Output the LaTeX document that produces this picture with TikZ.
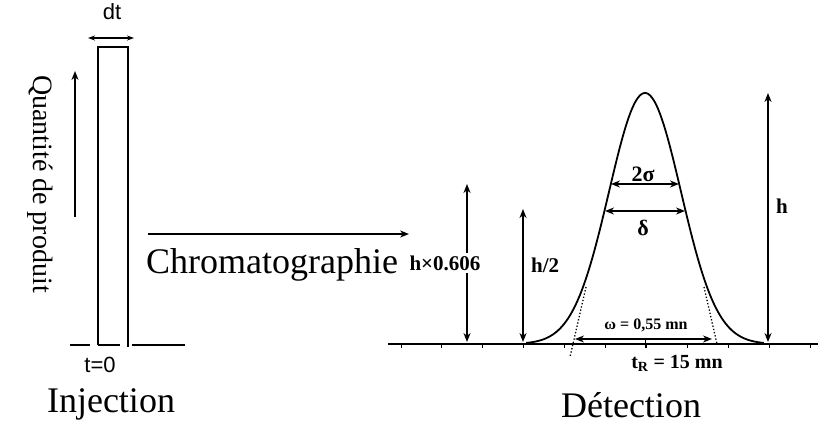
\documentclass[tikz,border=0pt]{standalone}
\usepackage{fontspec}
\setmainfont{Liberation Serif}
\newfontfamily\sansf{Liberation Sans}
\usetikzlibrary{arrows.meta}
\tikzset{
  ln/.style={line width=1.8pt},
  arr/.style={ln,-{Stealth[length=9pt,width=7pt]}},
  darr/.style={ln,{Stealth[length=9pt,width=7pt]}-{Stealth[length=9pt,width=7pt]}},
  bigtxt/.style={font=\fontsize{36}{36}\selectfont,inner sep=0pt},
  lab/.style={font=\bfseries\fontsize{21}{21}\selectfont,inner sep=1pt},
  dotl/.style={line width=1.3pt,dotted},
}
\begin{document}
\begin{tikzpicture}[x=1pt,y=-1pt]
\useasboundingbox (0,0) rectangle (837,430);
% ---------- Injection ----------
\draw[ln] (98,345) -- (98,47) -- (128,47) -- (128,347);
\draw[ln] (70,345) -- (90,345);
\draw[ln] (98,345) -- (120,345);
\draw[ln] (132,345) -- (185,345);
\coordinate (dtl) at (88,38); \coordinate (dtr) at (134,38);
\draw[ln,{Stealth[length=7pt,width=5pt]}-{Stealth[length=7pt,width=5pt]}] (dtl) -- (dtr);
\node[font=\sansf\fontsize{22}{22}\selectfont,anchor=base,inner sep=0pt] (dt) at (112,20) {dt};
\coordinate (qa) at (75,217); \coordinate (qb) at (75,71);
\draw[arr] (qa) -- (qb);
\node[font=\fontsize{28}{28}\selectfont,rotate=-90,anchor=base,inner sep=0pt] (qp) at (33,184) {Quantité de produit};
\node[font=\sansf\fontsize{22}{22}\selectfont,anchor=base,inner sep=0pt] (t0) at (100,372) {t=0};
\node[bigtxt,anchor=base] (inj) at (111,412) {Injection};
% ---------- Chromatographie ----------
\coordinate (ca) at (148,234); \coordinate (cb) at (409,234);
\draw[arr] (ca) -- (cb);
\node[bigtxt,anchor=base west] (chr) at (146,273) {Chromatographie};
% ---------- Detection ----------
\draw[ln] (388,344) -- (818,344);
\foreach \k in {0,...,10} \draw[line width=1pt] ({401+40.9*\k},344) -- ({401+40.9*\k},348);
\draw[line width=1pt] (645,338) -- (645,348);
\draw[ln] plot[domain=-3.3:3.3,samples=120,smooth] ({645+36*\x},{344-251*exp(-0.5*\x*\x)});
% tangents
\draw[dotl] (586,287) -- (570,357);
\draw[dotl] (704,287) -- (717,344);
% 2 sigma and delta
\coordinate (sa) at (611,184); \coordinate (sb) at (679,184);
\draw[darr] (sa) -- (sb);
\node[lab,font=\bfseries\fontsize{22}{22}\selectfont] (s2) at (643,174) {2σ};
\coordinate (da) at (605,211); \coordinate (db) at (685,211);
\draw[darr] (da) -- (db);
\node[lab,font=\bfseries\fontsize{22}{22}\selectfont] (dl) at (643,228) {δ};
% omega
\coordinate (wa) at (575,339); \coordinate (wb) at (712,339);
\draw[darr] (wa) -- (wb);
\node[font=\bfseries\fontsize{16}{16}\selectfont,inner sep=0pt] (om) at (646,325) {ω = 0,55 mn};
\node[font=\bfseries\fontsize{20}{20}\selectfont,anchor=base,inner sep=0pt] (tr) at (677,368) {t\textsubscript{R} = 15 mn};
% h
\coordinate (ha) at (768,342); \coordinate (hb) at (768,93);
\draw[darr] (ha) -- (hb);
\node[lab] (hl) at (782,206) {h};
% h/2
\coordinate (h2a) at (523,342); \coordinate (h2b) at (523,209);
\draw[darr] (h2a) -- (h2b);
\node[lab,anchor=west] (h2l) at (530,265) {h/2};
% h x 0.606
\coordinate (h6a) at (467,342); \coordinate (h6b) at (467,184);
\draw[darr] (h6a) -- (h6b);
\node[lab,fill=white,inner xsep=0pt,inner ysep=3pt] (h6l) at (445,263) {h×0.606};
% Detection label
\node[bigtxt,anchor=base] (det) at (631,417) {Détection};
\end{tikzpicture}
\end{document}
